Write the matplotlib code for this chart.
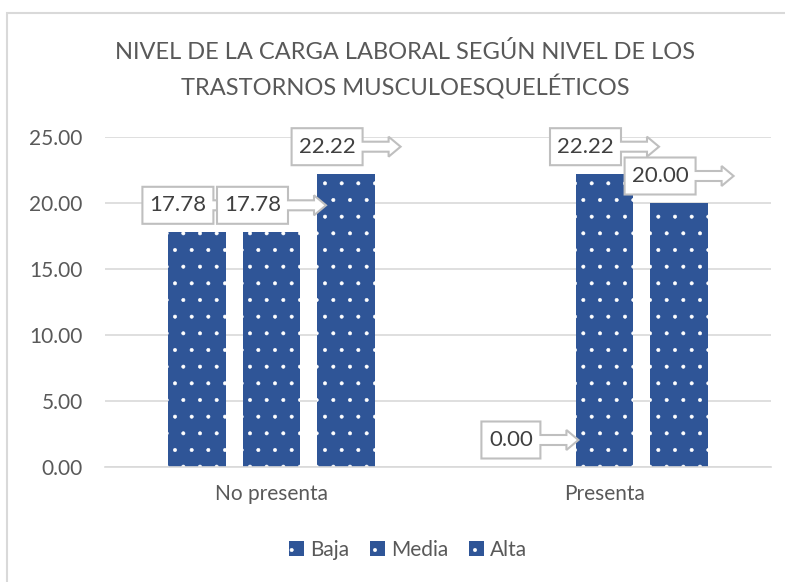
import numpy as np
import matplotlib.pyplot as plt
import matplotlib.transforms as mtransforms
from matplotlib.patches import Polygon, Rectangle, Patch

plt.rcParams['font.family'] = ['Lato', 'DejaVu Sans']
plt.rcParams['hatch.color'] = 'white'
plt.rcParams['hatch.linewidth'] = 0.4

# datos
categorias = ['No presenta', 'Presenta']
series = ['Baja', 'Media', 'Alta']
baja = [17.78, 0.00]
media = [17.78, 22.22]
alta = [22.22, 20.00]
valores = [baja, media, alta]

azul = '#2F5597'
gris_txt = '#595959'

fig = plt.figure(figsize=(7.85, 5.82), dpi=100)
ax = fig.add_axes([105/785, 1-467/582, 666/785, 330/582])

x = np.arange(len(categorias))
ancho = 0.174
paso = 0.224

for i, vals in enumerate(valores):
    ax.bar(x + (i-1)*paso, vals, width=ancho, color=azul, edgecolor='white',
           linewidth=0, hatch='.', zorder=2)

ax.set_xlim(-0.5, 1.5)
ax.set_ylim(0, 25)
ax.set_yticks(np.arange(0, 25.1, 5))
ax.set_yticklabels(['%.2f' % v for v in np.arange(0, 25.1, 5)])
ax.set_xticks(x)
ax.set_xticklabels(categorias)
ax.tick_params(length=0, labelsize=15, colors=gris_txt)
ax.tick_params(axis='x', pad=12)
ax.tick_params(axis='y', pad=16)
ax.grid(axis='y', color='#D9D9D9', linewidth=1.2, zorder=0)
for s in ['top', 'right', 'left']:
    ax.spines[s].set_visible(False)
ax.spines['bottom'].set_color('#D9D9D9')
ax.spines['bottom'].set_linewidth(1.2)

# etiquetas tipo llamada con flecha
def llamada(xc, yv, texto):
    caja = 12*len(texto) + 11
    total = caja + 38
    x0 = -total/2
    x1 = x0 + caja
    x2 = total/2
    cy = 27
    h = 18.5
    pts = [(x0, cy-h), (x1, cy-h), (x1, cy-5), (x2-12, cy-5), (x2-12, cy-10),
           (x2, cy), (x2-12, cy+10), (x2-12, cy+5), (x1, cy+5), (x1, cy+h),
           (x0, cy+h)]
    pts = [(px/100, py/100) for px, py in pts]
    tr = fig.dpi_scale_trans + mtransforms.ScaledTranslation(xc, yv, ax.transData)
    ax.add_patch(Polygon(pts, closed=True, facecolor='white', edgecolor='#BFBFBF',
                         linewidth=1.5, transform=tr, zorder=5, clip_on=False))
    ax.text((x0+caja/2)/100, cy/100, texto, transform=tr, ha='center', va='center',
            fontsize=16, color='#404040', zorder=6)

for j in range(len(categorias)):
    for i, vals in enumerate(valores):
        llamada(x[j] + (i-1)*paso, vals[j], '%.2f' % vals[j])

fig.text(0.516, 1-52/582, 'NIVEL DE LA CARGA LABORAL SEGÚN NIVEL DE LOS',
         ha='center', va='center', fontsize=17, color=gris_txt)
fig.text(0.516, 1-87/582, 'TRASTORNOS MUSCULOESQUELÉTICOS',
         ha='center', va='center', fontsize=17, color=gris_txt)

handles = [Patch(facecolor=azul, edgecolor='white', linewidth=0, hatch='.') for _ in series]
fig.legend(handles, series, loc='center', bbox_to_anchor=(0.52, 1-550/582), ncol=3,
           frameon=False, handlelength=0.7, handleheight=0.7, handletextpad=0.3,
           columnspacing=1.0, prop={'size': 15}, labelcolor=gris_txt)

fig.patches.append(Rectangle((7/785, -0.1), 1.2, 1-13/582+0.1, transform=fig.transFigure,
                             fill=False, edgecolor='#D9D9D9', linewidth=1.5))

fig.savefig('out.png', dpi=100)
